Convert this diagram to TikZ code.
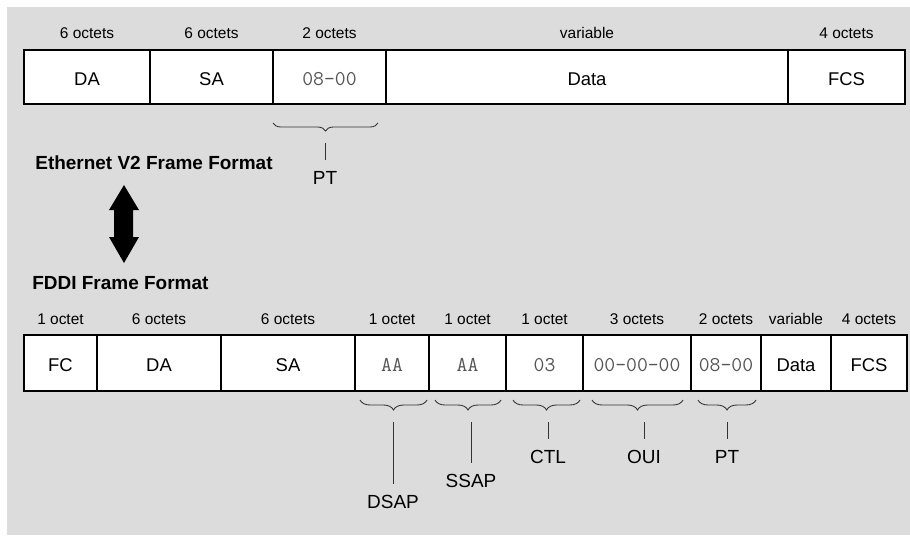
\documentclass[tikz,border=0pt]{standalone}
\usepackage{fontspec}
\setmainfont{Liberation Sans}
\usetikzlibrary{decorations.pathreplacing}

\definecolor{panelgray}{RGB}{220,220,220}
\definecolor{hexgray}{RGB}{85,85,85}
\newcommand{\hex}[1]{{\ttfamily\fontsize{12}{14}\selectfont\color{hexgray}#1}}

\begin{document}
\begin{tikzpicture}[x=0.02cm, y=-0.02cm,
    field/.style={draw, line width=0.7pt, fill=white},
    octets/.style={font=\fontsize{8.8}{10}\selectfont, anchor=base},
    fieldtxt/.style={font=\fontsize{10.5}{12}\selectfont, anchor=base},
    tag/.style={font=\fontsize{10.8}{13}\selectfont, inner sep=0pt, outer sep=6.5pt},
    title/.style={font=\bfseries\fontsize{10.8}{13}\selectfont, anchor=base west, inner sep=0pt},
    brace/.style={decorate, decoration={brace, mirror, amplitude=#1}, line width=0.5pt, black!80},
    tick/.style={line width=0.5pt, black!80}]
    \useasboundingbox (0,0) rectangle (910,535);
    \fill [panelgray] (7,7) rectangle (910,535);

    % Ethernet V2 frame
    \foreach \l/\r/\txt/\sz in {24/150/DA/6 octets, 150/273/SA/6 octets,
        273/386/\hex{08\textendash00}/2 octets, 386/788/Data/variable, 788/905/FCS/4 octets}{
      \draw [field] (\l,50) rectangle (\r,104);
      \node [fieldtxt] (eth\l) at ({(\l+\r)/2},85) {\txt};
      \node [octets] (ethsz\l) at ({(\l+\r)/2},38) {\sz};
    }
    \draw [brace=0.16cm] (273,123) -- (378,123);
    \coordinate (ethtick) at (325,143);
    \node [tag] (ethPT) at (325,178) {PT};
    \draw [tick] (ethtick) -- (ethPT);

    \node [title] (ethtitle) at (35,169) {Ethernet V2 Frame Format};
    \node [title] (fddititle) at (32,289) {FDDI Frame Format};

    % two-way arrow
    \fill (124,185) -- (139,210) -- (133,210) -- (133,237) -- (139,237) -- (124,263)
      -- (109,237) -- (114,237) -- (114,210) -- (109,210) -- cycle;

    % FDDI frame
    \foreach \l/\r/\txt/\sz in {24/97/FC/1 octet, 97/221/DA/6 octets, 221/355/SA/6 octets,
        355/429/\hex{AA}/1 octet, 429/506/\hex{AA}/1 octet, 506/583/\hex{03}/1 octet,
        583/691/\hex{00\textendash00\textendash00}/3 octets, 691/761/\hex{08\textendash00}/2 octets,
        761/831/Data/variable, 831/907/FCS/4 octets}{
      \draw [field] (\l,335) rectangle (\r,391);
      \node [fieldtxt] (fddi\l) at ({(\l+\r)/2},371) {\txt};
      \node [octets] (fddisz\l) at ({(\l+\r)/2},324) {\sz};
    }
    \foreach \a/\b/\m/\ly/\txt in {360/427/393/502/DSAP, 435/501/471/481/SSAP,
        513/580/548/457/CTL, 592/683/644/457/OUI, 698/756/727/457/PT}{
      \draw [brace=0.2cm] (\a,400) -- (\b,400);
      \coordinate (tick\txt) at (\m,422);
      \node [tag] (lbl\txt) at (\m,\ly) {\txt};
      \draw [tick] (tick\txt) -- (lbl\txt);
    }
\end{tikzpicture}
\end{document}
